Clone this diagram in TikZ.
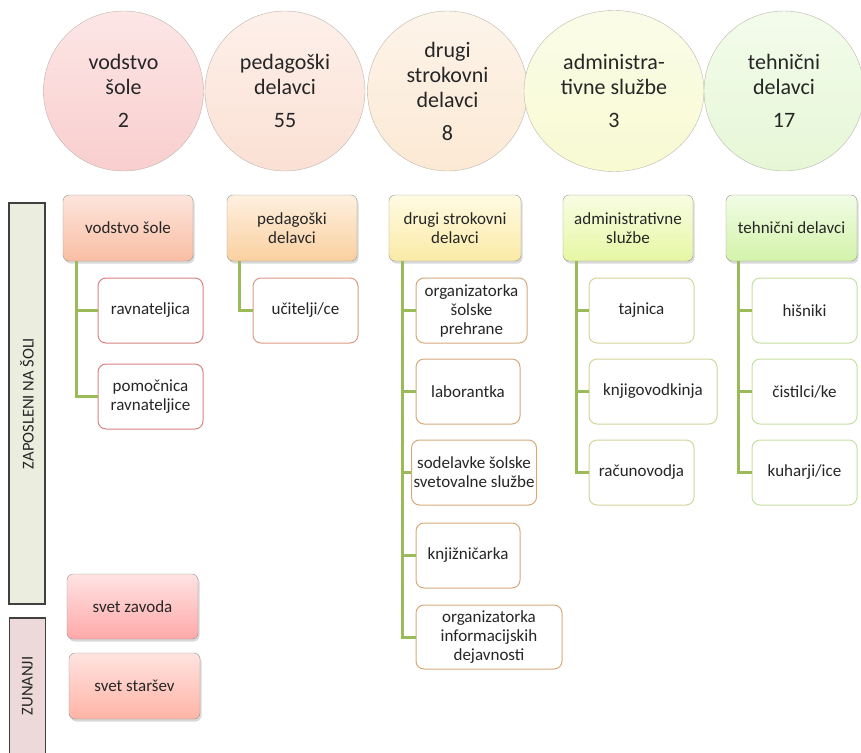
\documentclass[tikz,border=0pt]{standalone}
\usepackage{fontspec}
\setmainfont{Carlito}
\usepackage{xcolor}
\usetikzlibrary{shapes.geometric}
\usetikzlibrary{shadows}

\definecolor{ink}{HTML}{262626}
\definecolor{branchgreen}{HTML}{9BBB59}
\definecolor{rimgray}{HTML}{BDB6AE}
\definecolor{boxrim}{HTML}{9A9590}
\definecolor{leadrim}{HTML}{D98282}
\definecolor{pedrim}{HTML}{D99A85}
\definecolor{expertrim}{HTML}{D6AA7A}
\definecolor{officerim}{HTML}{D3D59A}
\definecolor{techrim}{HTML}{C5E0A0}

\begin{document}
\begin{tikzpicture}[x=1pt, y=-1pt,
  every text node part/.style={align=center},
  every node/.style={text=ink},
  headcircle/.style={ellipse, draw=rimgray, minimum width=160pt, minimum height=160pt, inner sep=0pt, font=\fontsize{22}{25}\selectfont},
  headbox/.style={draw=boxrim, rounded corners=6pt, minimum width=130pt, minimum height=66pt, inner sep=2pt, font=\fontsize{17}{19}\selectfont, drop shadow={shadow xshift=1.5pt, shadow yshift=-2.5pt, opacity=0.3}},
  childbox/.style={draw=#1, fill=white, rounded corners=8pt, line width=1pt, minimum width=105pt, minimum height=65pt, inner sep=2pt, font=\fontsize{17}{19}\selectfont},
  sidebar/.style={draw=black!75, line width=1.5pt, minimum height=36pt, inner sep=0pt, font=\fontsize{16.5}{19}\selectfont},
  branch/.style={draw=branchgreen, line width=3pt}]

\useasboundingbox (0,0) rectangle (861,752);

% counts on top
\node (vodstvo count) [headcircle, top color={rgb,255:red,253;green,230;blue,230}, bottom color={rgb,255:red,249;green,206;blue,206}] at (123.5,91) {vodstvo\\šole\\[8pt]2};
\node (pedagoski count) [headcircle, top color={rgb,255:red,253;green,240;blue,234}, bottom color={rgb,255:red,251;green,224;blue,212}] at (285,91) {pedagoški\\delavci\\[8pt]55};
\node (drugi count) [headcircle, top color={rgb,255:red,253;green,244;blue,234}, bottom color={rgb,255:red,252;green,233;blue,212}] at (447.5,91) {drugi\\strokovni\\delavci\\[8pt]8};
\node (admin count) [headcircle, minimum width=180pt, minimum height=161pt, top color={rgb,255:red,250;green,252;blue,232}, bottom color={rgb,255:red,248;green,250;blue,210}] at (614,91) {administra-\\tivne službe\\[8pt]3};
\node (tehnicni count) [headcircle, top color={rgb,255:red,243;green,252;blue,236}, bottom color={rgb,255:red,230;green,247;blue,214}] at (784,91) {tehnični\\delavci\\[8pt]17};

% side bars
\node (zaposleni bar) [sidebar, fill={rgb,255:red,235;green,238;blue,223}, minimum width=401pt, rotate=90] at (27,403.5) {ZAPOSLENI NA ŠOLI};
\node (zunanji bar) [sidebar, fill={rgb,255:red,237;green,217;blue,217}, minimum width=136pt, rotate=90] at (27.5,686) {ZUNANJI};

% groups
\node (vodstvo box) [headbox, top color={rgb,255:red,253;green,229;blue,220}, bottom color={rgb,255:red,249;green,190;blue,163}] at (128,228) {vodstvo šole};
\node (pedagoski box) [headbox, top color={rgb,255:red,254;green,240;blue,224}, bottom color={rgb,255:red,250;green,208;blue,159}] at (292,228) {pedagoški\\delavci};
\node (drugi box) [headbox, minimum width=132pt, top color={rgb,255:red,255;green,251;blue,227}, bottom color={rgb,255:red,251;green,234;blue,166}] at (455,228) {drugi strokovni\\delavci};
\node (admin box) [headbox, top color={rgb,255:red,248;green,253;blue,227}, bottom color={rgb,255:red,230;green,247;blue,163}] at (628,228) {administrativne\\službe};
\node (tehnicni box) [headbox, minimum width=131pt, top color={rgb,255:red,241;green,252;blue,230}, bottom color={rgb,255:red,211;green,243;blue,169}] at (791.5,228) {tehnični delavci};

\node (ravnateljica) [childbox=leadrim] at (150.5,310.5) {ravnateljica};
\node (pomocnica) [childbox=leadrim] at (150.5,396.5) {pomočnica\\ravnateljice};

\node (ucitelji) [childbox=pedrim] at (305.5,310.5) {učitelji/ce};

\node (prehrana) [childbox=expertrim, minimum width=111pt] at (471.5,310.5) {organizatorka\\šolske\\prehrane};
\node (laborantka) [childbox=expertrim, minimum width=104pt] at (468,391.5) {laborantka};
\node (svetovalna) [childbox=expertrim, minimum width=116pt] at (474,472.5) {sodelavke šolske\\svetovalne službe};
\node (knjiznicarka) [childbox=expertrim, minimum width=104pt] at (468,555.5) {knjižničarka};
\node (informatika) [childbox=expertrim, minimum width=146pt, minimum height=64pt] at (489,637) {organizatorka\\informacijskih\\dejavnosti};

\node (tajnica) [childbox=officerim] at (641.5,310.5) {tajnica};
\node (knjigovodkinja) [childbox=officerim, minimum width=128pt] at (653,391.5) {knjigovodkinja};
\node (racunovodja) [childbox=officerim] at (641.5,472.5) {računovodja};

\node (hisniki) [childbox=techrim] at (804.5,310.5) {hišniki};
\node (cistilci) [childbox=techrim] at (804.5,391.5) {čistilci/ke};
\node (kuharji) [childbox=techrim] at (804.5,472.5) {kuharji/ice};

% external
\node (svet zavoda) [headbox, minimum width=131pt, minimum height=65pt, top color={rgb,255:red,255;green,227;blue,227}, bottom color={rgb,255:red,255;green,168;blue,168}] at (132.5,606.5) {svet zavoda};
\node (svet starsev) [headbox, minimum width=131pt, top color={rgb,255:red,255;green,227;blue,224}, bottom color={rgb,255:red,255;green,180;blue,166}] at (134.5,686) {svet staršev};

\draw [branch] ([xshift=14pt]vodstvo box.south west) |- (ravnateljica.west);
\draw [branch] ([xshift=14pt]vodstvo box.south west) |- (pomocnica.west);
\draw [branch] ([xshift=13pt]pedagoski box.south west) |- (ucitelji.west);
\draw [branch] ([xshift=14pt]drugi box.south west) |- (prehrana.west);
\draw [branch] ([xshift=14pt]drugi box.south west) |- (laborantka.west);
\draw [branch] ([xshift=14pt]drugi box.south west) |- (svetovalna.west);
\draw [branch] ([xshift=14pt]drugi box.south west) |- (knjiznicarka.west);
\draw [branch] ([xshift=14pt]drugi box.south west) |- (informatika.west);
\draw [branch] ([xshift=14pt]admin box.south west) |- (tajnica.west);
\draw [branch] ([xshift=14pt]admin box.south west) |- (knjigovodkinja.west);
\draw [branch] ([xshift=14pt]admin box.south west) |- (racunovodja.west);
\draw [branch] ([xshift=13pt]tehnicni box.south west) |- (hisniki.west);
\draw [branch] ([xshift=13pt]tehnicni box.south west) |- (cistilci.west);
\draw [branch] ([xshift=13pt]tehnicni box.south west) |- (kuharji.west);

\end{tikzpicture}
\end{document}
